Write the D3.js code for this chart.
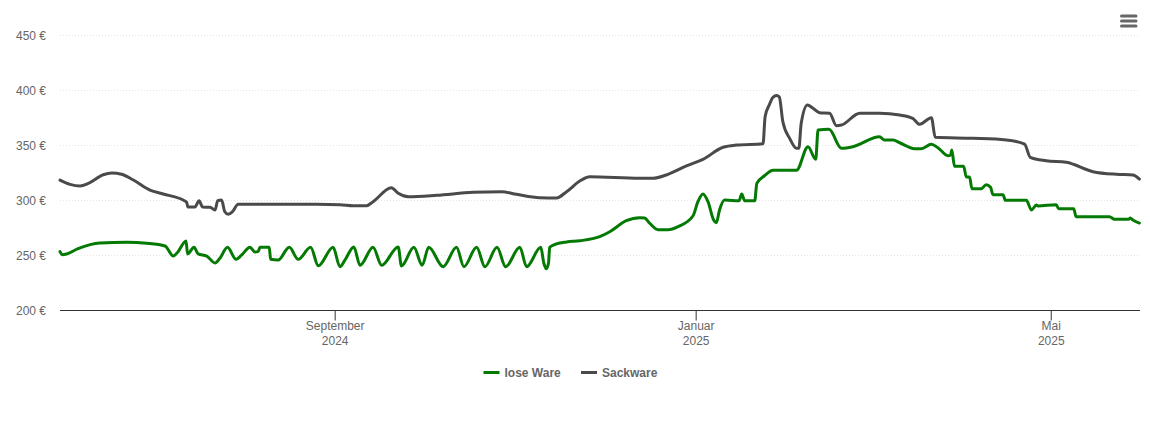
<!DOCTYPE html>
<html>
<head>
<meta charset="utf-8">
<style>
  html, body { margin: 0; padding: 0; background: #fff; }
  svg { display: block; }
  text { font-family: "Liberation Sans", Arial, sans-serif; }
</style>
<script src="https://cdn.jsdelivr.net/npm/d3@7"></script>
</head>
<body>
<svg id="chart" width="1150" height="438"></svg>
<script>
// days since 31 May 2024 and price in euro
const looseDays = [0,.9,2.3,6.1,13.5,22.5,29.3,35.5,38.3,39.9,42.6,43.1,45.3,46.7,49.6,52.4,54.1,56.6,59.5,61.4,64.2,65.9,67,67.6,70.7,71.2,73.7,77.5,80.5,84.7,87.3,92.3,94.6,96.3,99.3,101.4,105.8,108.7,114.3,115.4,119.6,122.4,124.6,129.5,134,136.5,140.8,143.6,147.7,150.6,155.4,157.7,162.5,163.5,164.4,165.1,165.5,167.8,171.2,175.7,182.4,185.8,191.4,195.9,197.6,199.3,202.1,205.5,208.9,213.9,215.6,217.3,219,220.9,221.8,222.9,224.6,229.5,230.4,231.4,234.8,235.5,238.1,241,248.9,252.8,255.4,256.2,259.9,264.1,268,277,278.5,281.5,283.8,288.8,291.1,294.5,296.7,300.1,301,301.4,302.3,305.4,306.3,307.4,308.2,311.4,313,314.5,315.3,318.7,319.5,326.6,328.3,330,330.5,336.7,337.5,342.6,343.4,354.7,356.4,361.2,361.7,362.6,364.8];
const looseValues = [253.5,250.7,251.4,256.2,261.4,262,261.1,258.6,249.5,253.5,263.2,251.4,257.5,251.4,249.5,243.2,247.7,257.5,246.5,250.5,257.5,253.2,253.8,257.5,257.5,246.5,245.9,257.5,246.5,257.5,240.7,257.5,239.8,245.9,257.8,241.1,257.5,241.1,257.8,240.5,257.5,241.1,257.5,239.8,257.5,239.8,257.5,239.8,257.5,239.8,257.5,239.8,257.5,243.2,238,243.2,257.5,260.5,262.3,263.4,267.1,271.6,281.6,284.4,284.1,279.3,273.4,273.4,276.2,285.9,298.9,305.9,298.9,282.3,279.8,291.4,300.4,299.8,305.9,299.8,299.8,315.6,322.5,327.4,327.4,348.9,337.4,364.1,364.7,347.4,348.9,358,355,355,352.5,347.1,347.1,351.1,348,340.7,341.4,345.9,331.1,331.1,321.4,321.4,310.7,310.7,314.4,312,305.3,305.3,300.2,300.2,291.4,295.9,295,296.2,292.5,292.5,285.3,285.3,282.9,282.9,284.1,282.3,279.5];

const sackDays = [0,3.4,6.8,9.6,14.6,17.5,20.8,24.8,30.4,34.9,41.6,42.8,43.2,45.6,47,48.2,50.7,52.4,53.3,54.6,55.7,56.9,58.3,60.2,86.7,94.6,99.1,103.6,105.8,112,114.3,117.7,127.3,139.6,149.2,154.3,162.1,167.8,171.2,176.2,179,195.9,200.4,204.9,211.7,217.3,224.1,228.6,237.6,238.3,239.8,240.9,242.2,243.1,244.3,246.6,248.9,249.7,250.5,252.6,254.5,256.7,260.1,262.4,264.1,270.3,277,283.8,288.2,290.5,294.5,295.8,308.5,319.8,326,327.9,333.3,340.1,349.1,357,362.6,364.8];
const sackValues = [318.6,314.7,313.2,315.6,323.4,325,323.8,318.6,309.5,305.9,300.4,298.4,294.1,294.1,299.8,294.1,293.8,291.4,299.8,300.4,289.8,287.4,289.8,296.5,296.5,296.2,295.3,295.3,298.9,311.6,306.5,303.4,304.7,307.4,308,305.6,302.5,302.3,308,318.6,321.6,320.2,320.2,323.2,331.4,337.4,348.4,350.4,351.6,376.2,387.5,393.6,395.4,394,371.6,356.5,347.4,347.4,370.2,386.8,383.8,379.8,379.3,368,368.6,379.3,379.3,377.7,374.7,369.3,375.2,357.4,356.5,355,351.3,339.3,336.2,334.7,326.2,323.8,323.2,319.5];

const yTicks = [200, 250, 300, 350, 400, 450];
const monthTicks = [new Date(Date.UTC(2024, 8, 1)), new Date(Date.UTC(2025, 0, 1)), new Date(Date.UTC(2025, 4, 1))];
const monthNames = ['September', 'Januar', 'Mai'];
const yearNames = ['2024', '2025', '2025'];
const seriesNames = ['lose Ware', 'Sackware'];
const seriesColors = ['#047a04', '#4a4a4c'];

const startDate = Date.UTC(2024, 4, 31);
const dayMs = 864e5;
const svg = d3.select('#chart');

const x = d3.scaleUtc()
  .domain([new Date(startDate), new Date(startDate + 365 * dayMs)])
  .range([60, 1140]);
const y = d3.scaleLinear().domain([200, 450]).range([310.5, 35.5]);

// grid + y labels
const yAxis = svg.append('g')
  .attr('transform', 'translate(60,0)')
  .call(d3.axisLeft(y).tickValues(yTicks).offset(0).tickSize(-1080).tickPadding(14).tickFormat(d => d + ' €'));
yAxis.select('.domain').remove();
yAxis.selectAll('line')
  .attr('stroke', '#e6e6e6')
  .attr('stroke-dasharray', '1,2');
yAxis.selectAll('text')
  .attr('y', 0.5)
  .attr('fill', '#666')
  .style('font-size', '12px')
  .style('font-family', '"Liberation Sans", Arial, sans-serif');

// month axis with the year on a second line
const xAxis = svg.append('g')
  .attr('transform', 'translate(0,310.5)')
  .call(d3.axisBottom(x).tickValues(monthTicks).offset(0).tickSize(10).tickSizeOuter(0).tickFormat(''));
xAxis.select('.domain').attr('stroke', '#333');
xAxis.selectAll('line').attr('stroke', '#333');
xAxis.selectAll('.tick text').remove();
xAxis.selectAll('.tick').each(function(d, i) {
  const label = d3.select(this).append('text')
    .attr('text-anchor', 'middle')
    .attr('fill', '#666')
    .style('font-size', '12px')
    .style('font-family', '"Liberation Sans", Arial, sans-serif');
  label.append('tspan').attr('x', 0).attr('y', 19).text(monthNames[i]);
  label.append('tspan').attr('x', 0).attr('y', 34).text(yearNames[i]);
});

const line = d3.line()
  .x(d => x(new Date(startDate + d[0] * dayMs)))
  .y(d => y(d[1]))
  .curve(d3.curveMonotoneX);

const series = [d3.zip(looseDays, looseValues), d3.zip(sackDays, sackValues)];
svg.selectAll('path.series')
  .data(series)
  .join('path')
  .attr('class', 'series')
  .attr('fill', 'none')
  .attr('stroke', (d, i) => seriesColors[i])
  .attr('stroke-width', 3)
  .attr('stroke-linejoin', 'round')
  .attr('stroke-linecap', 'round')
  .attr('d', line);

// legend
const legendX = [483.5, 581];
const legend = svg.selectAll('g.legend')
  .data(seriesNames)
  .join('g')
  .attr('class', 'legend')
  .attr('transform', (d, i) => `translate(${legendX[i]},372.5)`);
legend.append('line')
  .attr('x2', 16)
  .attr('stroke', (d, i) => seriesColors[i])
  .attr('stroke-width', 3);
legend.append('text')
  .attr('x', 21)
  .attr('y', 4)
  .attr('fill', '#666')
  .style('font-size', '12px')
  .style('font-weight', 'bold')
  .text(d => d);

// menu button
svg.append('g')
  .selectAll('line')
  .data([16, 21, 26])
  .join('line')
  .attr('x1', 1121.5)
  .attr('x2', 1136)
  .attr('y1', d => d)
  .attr('y2', d => d)
  .attr('stroke', '#666')
  .attr('stroke-width', 3)
  .attr('stroke-linecap', 'round');
</script>
</body>
</html>
